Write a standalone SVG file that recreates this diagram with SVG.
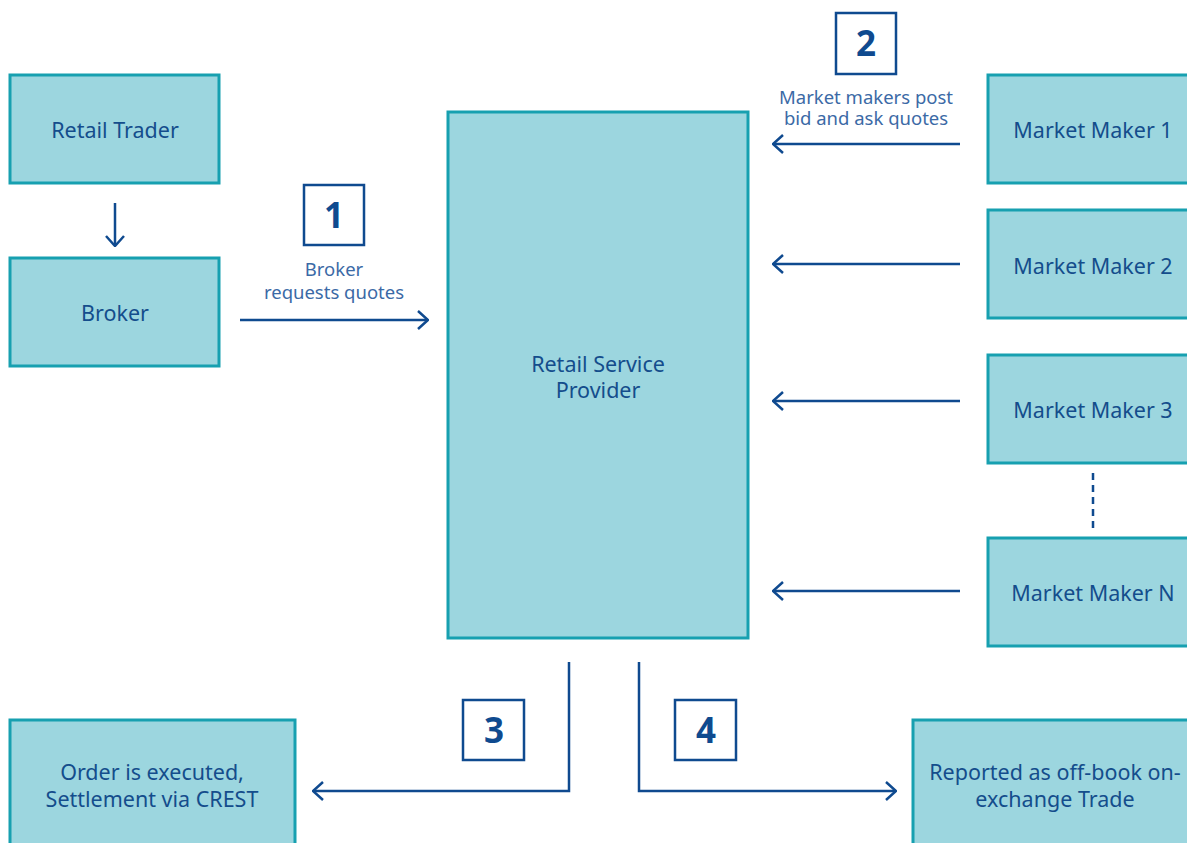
<svg xmlns="http://www.w3.org/2000/svg" width="1187" height="843" viewBox="0 0 1187 843">
<defs>
<style>
.node{fill:#9cd6df;stroke:#17a0b0;stroke-width:3}
.nt{font-family:"Noto Sans","Open Sans",sans-serif;font-size:21.5px;fill:#144d8c;text-anchor:middle}
.lbl{font-family:"Noto Sans","Open Sans",sans-serif;font-size:18.5px;fill:#3b6aa6;text-anchor:middle}
.num{fill:#fff;stroke:#0f4a8f;stroke-width:2.5}
.numt{font-family:"Noto Sans","Open Sans",sans-serif;font-size:35px;font-weight:bold;fill:#0f4a8f;text-anchor:middle}
.ln{fill:none;stroke:#0f4a8f;stroke-width:2.5}
</style>
<marker id="ah" viewBox="0 0 12 20" refX="11" refY="10" markerWidth="12" markerHeight="20" markerUnits="userSpaceOnUse" orient="auto">
<polyline points="1,1 11,10 1,19" fill="none" stroke="#0f4a8f" stroke-width="2.5"/>
</marker>
</defs>
<rect width="1187" height="843" fill="#fff"/>
<g id="connectors">
<line class="ln" x1="115" y1="203" x2="115" y2="246" marker-end="url(#ah)"/>
<line class="ln" x1="240" y1="320" x2="428" y2="320" marker-end="url(#ah)"/>
<line class="ln" x1="960" y1="144" x2="773" y2="144" marker-end="url(#ah)"/>
<line class="ln" x1="960" y1="264" x2="773" y2="264" marker-end="url(#ah)"/>
<line class="ln" x1="960" y1="401" x2="773" y2="401" marker-end="url(#ah)"/>
<line class="ln" x1="960" y1="591" x2="773" y2="591" marker-end="url(#ah)"/>
<line class="ln" x1="1093" y1="473" x2="1093" y2="531" stroke-dasharray="7,5"/>
<polyline class="ln" points="569,662 569,791 313,791" marker-end="url(#ah)"/>
<polyline class="ln" points="639,662 639,791 896,791" marker-end="url(#ah)"/>
</g>
<g id="step1"><rect class="num" x="304" y="185" width="60" height="60"/><text class="numt" x="334" y="228">1</text>
<text class="lbl" x="334" y="276">Broker</text><text class="lbl" x="334" y="299">requests quotes</text></g>
<g id="step2"><rect class="num" x="836" y="13" width="60" height="61"/><text class="numt" x="866" y="56">2</text>
<text class="lbl" x="866" y="104">Market makers post</text><text class="lbl" x="866" y="125">bid and ask quotes</text></g>
<g id="step3"><rect class="num" x="463" y="700" width="61" height="60"/><text class="numt" x="494" y="743">3</text></g>
<g id="step4"><rect class="num" x="675" y="700" width="61" height="60"/><text class="numt" x="706" y="743">4</text></g>
<g id="retail-trader"><rect class="node" x="10" y="75" width="209" height="108"/><text class="nt" x="115" y="138">Retail Trader</text></g>
<g id="broker"><rect class="node" x="10" y="258" width="209" height="108"/><text class="nt" x="115" y="321">Broker</text></g>
<g id="rsp"><rect class="node" x="448" y="112" width="300" height="526"/><text class="nt" x="598" y="372">Retail Service</text><text class="nt" x="598" y="398">Provider</text></g>
<g id="mm1"><rect class="node" x="988" y="75" width="210" height="108"/><text class="nt" x="1093" y="138">Market Maker 1</text></g>
<g id="mm2"><rect class="node" x="988" y="210" width="210" height="108"/><text class="nt" x="1093" y="274">Market Maker 2</text></g>
<g id="mm3"><rect class="node" x="988" y="355" width="210" height="108"/><text class="nt" x="1093" y="418">Market Maker 3</text></g>
<g id="mmn"><rect class="node" x="988" y="538" width="210" height="108"/><text class="nt" x="1093" y="601">Market Maker N</text></g>
<g id="order"><rect class="node" x="10" y="720" width="285" height="140"/><text class="nt" x="152" y="780">Order is executed,</text><text class="nt" x="152" y="807">Settlement via CREST</text></g>
<g id="reported"><rect class="node" x="913" y="720" width="290" height="140"/><text class="nt" x="1055" y="780">Reported as off-book on-</text><text class="nt" x="1055" y="807">exchange Trade</text></g>
</svg>
